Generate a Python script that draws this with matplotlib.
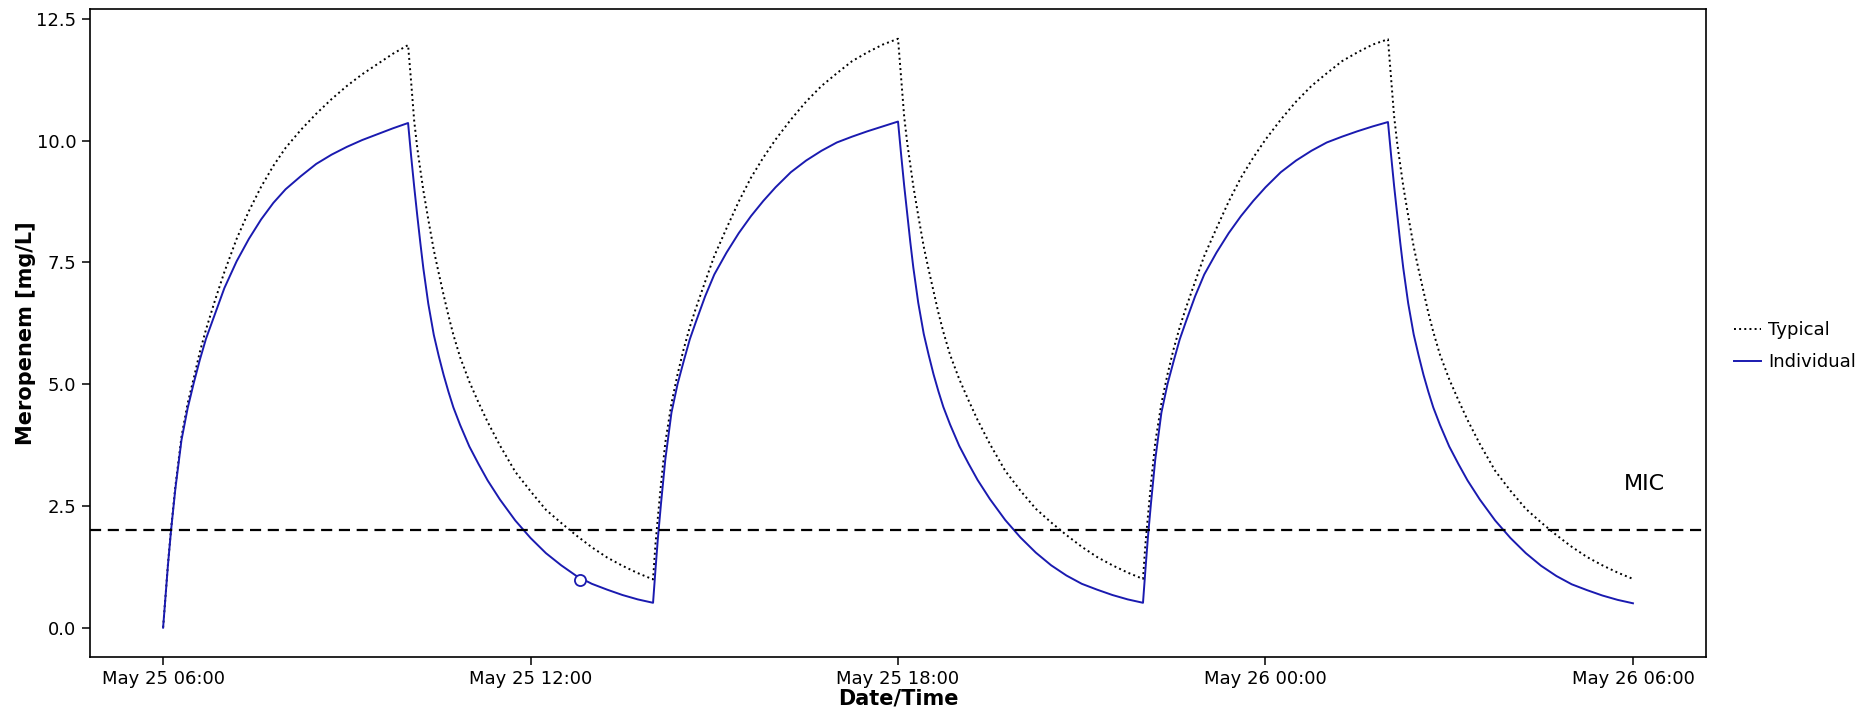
import matplotlib
matplotlib.use("Agg")
import matplotlib.pyplot as plt
import matplotlib.dates as mdates
from matplotlib.ticker import MultipleLocator, FormatStrFormatter
import pandas as pd

# hours after the start of each 8 h dose: 4 h infusion, then decay
rise_hours = [0, 0.04, 0.08, 0.13, 0.2, 0.3, 0.4, 0.5, 0.6, 0.7, 0.85, 1.0, 1.2, 1.4,
              1.6, 1.8, 2.0, 2.25, 2.5, 2.75, 3.0, 3.25, 3.5, 3.75, 4.0]
decay_hours = [4.05, 4.1, 4.15, 4.2, 4.25, 4.33, 4.42, 4.5, 4.58, 4.66, 4.74, 4.85, 5.0,
               5.15, 5.3, 5.5, 5.75, 6.0, 6.25, 6.5, 6.75, 7.0, 7.25, 7.5, 7.75, 8.0]
dose_starts = [0, 8, 16]

# concentrations [mg/L], rise values then decay values
individual_1 = [0, 0.65, 1.3, 2.0, 2.85, 3.85, 4.5, 5.02, 5.5, 5.93, 6.45, 6.97, 7.52, 7.98,
                8.38, 8.72, 9.0, 9.27, 9.52, 9.71, 9.87, 10.01, 10.13, 10.25, 10.36,
                9.68, 9.05, 8.46, 7.9, 7.37, 6.65, 6.01, 5.58, 5.19, 4.84, 4.52, 4.16, 3.72,
                3.36, 3.02, 2.63, 2.2, 1.84, 1.53, 1.28, 1.06, 0.9, 0.78, 0.67, 0.58, 0.51]
individual_2 = [0.51, 1.2, 1.85, 2.55, 3.45, 4.41, 5.0, 5.47, 5.92, 6.28, 6.8, 7.25, 7.7, 8.1,
                8.45, 8.76, 9.04, 9.35, 9.59, 9.79, 9.96, 10.08, 10.19, 10.29, 10.39,
                9.72, 9.08, 8.49, 7.92, 7.39, 6.67, 6.03, 5.6, 5.2, 4.85, 4.53, 4.17, 3.73,
                3.37, 3.03, 2.64, 2.21, 1.85, 1.54, 1.28, 1.07, 0.9, 0.78, 0.67, 0.58, 0.51]
individual_3 = [0.51, 1.2, 1.85, 2.55, 3.45, 4.41, 5.0, 5.47, 5.92, 6.28, 6.8, 7.25, 7.7, 8.1,
                8.45, 8.76, 9.04, 9.35, 9.59, 9.79, 9.96, 10.08, 10.19, 10.29, 10.38,
                9.71, 9.07, 8.48, 7.91, 7.38, 6.66, 6.02, 5.59, 5.19, 4.84, 4.52, 4.16, 3.72,
                3.36, 3.02, 2.63, 2.2, 1.84, 1.53, 1.27, 1.06, 0.89, 0.77, 0.66, 0.57, 0.50]

typical_1 = [0, 0.66, 1.32, 2.03, 2.9, 3.92, 4.6, 5.12, 5.66, 6.12, 6.73, 7.3, 7.98, 8.55,
             9.05, 9.48, 9.85, 10.22, 10.55, 10.85, 11.12, 11.36, 11.57, 11.78, 11.96,
             11.2, 10.4, 9.85, 9.4, 8.97, 8.38, 7.75, 7.28, 6.83, 6.4, 6.01, 5.55, 5.05,
             4.62, 4.22, 3.74, 3.2, 2.8, 2.42, 2.15, 1.89, 1.65, 1.44, 1.27, 1.12, 0.99]
typical_2 = [0.99, 1.72, 2.28, 2.95, 3.8, 4.6, 5.2, 5.72, 6.17, 6.56, 7.1, 7.63, 8.2, 8.75,
             9.24, 9.65, 10.02, 10.43, 10.8, 11.12, 11.38, 11.63, 11.81, 11.97, 12.09,
             11.3, 10.5, 9.95, 9.5, 9.06, 8.46, 7.82, 7.35, 6.9, 6.46, 6.07, 5.6, 5.1,
             4.67, 4.26, 3.77, 3.22, 2.81, 2.44, 2.16, 1.9, 1.66, 1.45, 1.28, 1.13, 1.0]
typical_3 = [1.0, 1.72, 2.28, 2.95, 3.8, 4.6, 5.2, 5.72, 6.17, 6.56, 7.1, 7.63, 8.2, 8.75,
             9.24, 9.65, 10.02, 10.43, 10.8, 11.12, 11.38, 11.63, 11.81, 11.97, 12.08,
             11.3, 10.5, 9.95, 9.5, 9.06, 8.46, 7.82, 7.35, 6.9, 6.46, 6.07, 5.6, 5.1,
             4.67, 4.26, 3.77, 3.22, 2.81, 2.44, 2.16, 1.9, 1.66, 1.45, 1.28, 1.13, 1.0]

obs_hour = 6.8   # measured level, hours after first dose
obs_conc = 0.98
mic = 2.0
start = pd.Timestamp("2024-05-25 06:00")


def join_cycles(cycles):
    cycle_hours = rise_hours + decay_hours
    hours, conc = [], []
    for i, (d, c) in enumerate(zip(dose_starts, cycles)):
        skip = 0 if i == 0 else 1   # shared point with previous trough
        hours += [d + h for h in cycle_hours[skip:]]
        conc += c[skip:]
    return start + pd.to_timedelta(hours, unit="h"), conc


t_ind, c_ind = join_cycles([individual_1, individual_2, individual_3])
t_typ, c_typ = join_cycles([typical_1, typical_2, typical_3])

fig, ax = plt.subplots(figsize=(18.67, 7.15), dpi=100)
fig.subplots_adjust(left=0.048, right=0.914, top=0.987, bottom=0.081)

blue = "#1a1ab0"
ax.plot(t_typ, c_typ, linestyle=":", color="black", linewidth=1.4, label="Typical")
ax.plot(t_ind, c_ind, color=blue, linewidth=1.4, label="Individual")
ax.plot([start + pd.Timedelta(hours=obs_hour)], [obs_conc], marker="o", markersize=8,
        markerfacecolor="white", markeredgecolor=blue, markeredgewidth=1.3,
        linestyle="none")

ax.axhline(mic, color="black", linestyle="--", linewidth=1.6, dashes=(5, 3))
ax.text(start + pd.Timedelta(hours=24.18), 2.95, "MIC", ha="center", va="center",
        fontsize=16)

ax.xaxis.set_major_locator(mdates.HourLocator(byhour=[0, 6, 12, 18]))
ax.xaxis.set_major_formatter(mdates.DateFormatter("%b %d %H:%M"))
ax.yaxis.set_major_locator(MultipleLocator(2.5))
ax.yaxis.set_major_formatter(FormatStrFormatter("%.1f"))
ax.tick_params(labelsize=13, length=6, width=1.1)
for s in ax.spines.values():
    s.set_linewidth(1.2)

ax.set_xlabel("Date/Time", fontsize=15, fontweight="bold", labelpad=0)
ax.set_ylabel("Meropenem [mg/L]", fontsize=15, fontweight="bold", labelpad=0)

ax.legend(loc="center left", bbox_to_anchor=(1.007, 0.48), frameon=False, fontsize=13,
          handlelength=1.5, handletextpad=0.4, labelspacing=0.75)

fig.savefig("out.png", dpi=100)
